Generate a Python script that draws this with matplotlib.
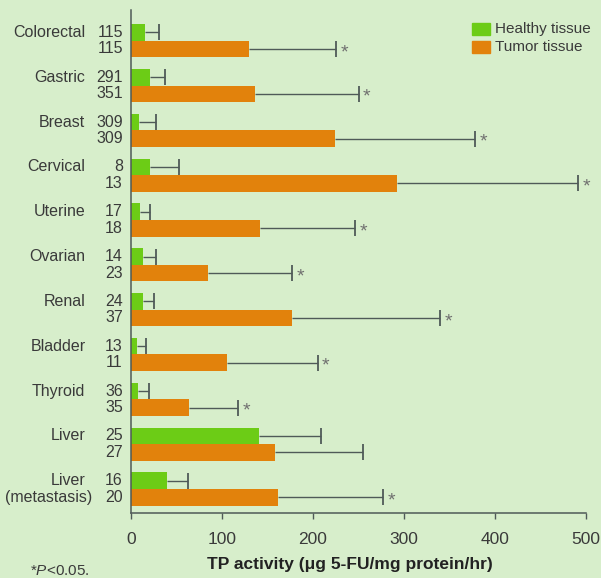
import matplotlib
matplotlib.use("Agg")
import matplotlib.pyplot as plt
import numpy as np

plt.rcParams['font.family'] = ['Liberation Sans', 'DejaVu Sans']
plt.rcParams['mathtext.fontset'] = 'custom'
plt.rcParams['mathtext.rm'] = 'Liberation Sans'
plt.rcParams['mathtext.it'] = 'Liberation Sans:italic'

# TP activity by tissue type (mean, upper error)
tissues = ['Colorectal', 'Gastric', 'Breast', 'Cervical', 'Uterine', 'Ovarian',
           'Renal', 'Bladder', 'Thyroid', 'Liver', 'Liver']
tissue_sub = ['', '', '', '', '', '', '', '', '', '', '(metastasis)']
n_healthy = [115, 291, 309, 8, 17, 14, 24, 13, 36, 25, 16]
n_tumor = [115, 351, 309, 13, 18, 23, 37, 11, 35, 27, 20]
healthy = [15, 21, 9, 21, 10, 13, 13, 7, 8, 141, 40]
healthy_err = [16, 16, 18, 32, 11, 15, 12, 9, 12, 68, 23]
tumor = [130, 136, 224, 292, 142, 85, 177, 105, 64, 158, 161]
tumor_err = [95, 114, 154, 199, 104, 92, 163, 100, 54, 97, 116]
significant = [True, True, True, True, True, True, True, True, True, False, True]

bg = '#d7eecb'
green = '#6ccc16'
orange = '#e2820c'
txt = '#3a3a3a'
errc = '#4f5a58'

fig = plt.figure(figsize=(6.01, 5.78), dpi=100, facecolor=bg)
ax = fig.add_axes([131 / 601, 1 - 513 / 578, (586 - 131) / 601, (513 - 10) / 578])
ax.set_facecolor(bg)

y = np.arange(len(tissues))
h = 0.37


def one_sided_err(ypos, vals, errs):
    # whisker from bar end with a cap only at the outer end
    vals = np.asarray(vals)
    tops = vals + np.asarray(errs)
    ax.hlines(ypos, vals, tops, color=errc, linewidth=1.0, zorder=3)
    ax.plot(tops, ypos, linestyle='none', marker='|', markersize=12,
            markeredgewidth=1.3, color=errc, zorder=3)


ax.barh(y - h / 2, healthy, height=h, color=green)
ax.barh(y + h / 2, tumor, height=h, color=orange)
one_sided_err(y - h / 2, healthy, healthy_err)
one_sided_err(y + h / 2, tumor, tumor_err)

for i in range(len(y)):
    if significant[i]:
        ax.text(tumor[i] + tumor_err[i] + 5, y[i] + h / 2 + 0.08, '*',
                color='#707070', fontsize=14, va='center', ha='left')

# row labels: tissue name and sample size for each bar
trans = ax.get_yaxis_transform()
for i in range(len(y)):
    ax.text(-0.1, y[i] - h / 2, tissues[i], transform=trans, ha='right',
            va='center', fontsize=11.5, color=txt, clip_on=False)
    if tissue_sub[i]:
        ax.text(-0.085, y[i] + h / 2, tissue_sub[i], transform=trans, ha='right',
                va='center', fontsize=11.5, color=txt, clip_on=False)
    ax.text(-0.018, y[i] - h / 2, str(n_healthy[i]), transform=trans, ha='right',
            va='center', fontsize=11.5, color=txt, clip_on=False)
    ax.text(-0.018, y[i] + h / 2, str(n_tumor[i]), transform=trans, ha='right',
            va='center', fontsize=11.5, color=txt, clip_on=False)

ax.set_xlim(0, 500)
ax.set_ylim(len(y) - 1 + 0.536, -0.685)
ax.set_xticks([0, 100, 200, 300, 400, 500])
ax.set_yticks([])
ax.tick_params(axis='x', length=4, width=1, colors=errc, labelcolor=txt,
               labelsize=12.5, pad=10)
for side in ['top', 'right']:
    ax.spines[side].set_visible(False)
for side in ['left', 'bottom']:
    ax.spines[side].set_color(errc)
    ax.spines[side].set_linewidth(1.1)

fig.text(350 / 601, 1 - 565 / 578, 'TP activity (\u03bcg 5-FU/mg protein/hr)',
         ha='center', va='center', fontsize=12.5, fontweight='bold', color='#222222')
fig.text(30 / 601, 1 - 571 / 578, r'*$P$<0.05.', ha='left', va='center',
         fontsize=11, color=txt)

# legend
fig.patches.append(plt.Rectangle((472 / 601, 1 - 35 / 578), 18 / 601, 12 / 578,
                                 transform=fig.transFigure, color=green))
fig.patches.append(plt.Rectangle((472 / 601, 1 - 53 / 578), 18 / 601, 12 / 578,
                                 transform=fig.transFigure, color=orange))
fig.text(495 / 601, 1 - 29 / 578, 'Healthy tissue', ha='left', va='center',
         fontsize=11, color=txt)
fig.text(495 / 601, 1 - 47 / 578, 'Tumor tissue', ha='left', va='center',
         fontsize=11, color=txt)

fig.savefig('out.png', dpi=100, facecolor=bg)
